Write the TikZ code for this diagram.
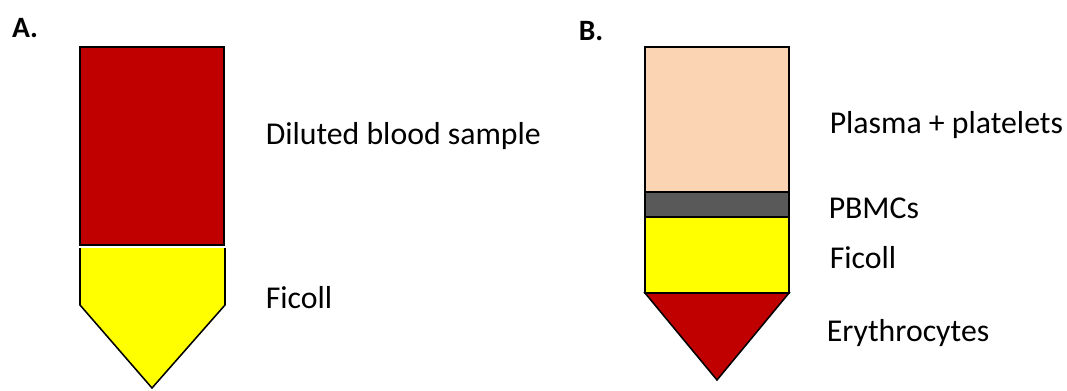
\documentclass[tikz,border=0pt]{standalone}
\usepackage{fontspec}
\setmainfont{Carlito}
\usepackage{tikz}

\definecolor{blood}{HTML}{C00000}
\definecolor{ficoll}{HTML}{FFFF00}
\definecolor{plasma}{HTML}{FBD4B4}
\definecolor{pbmc}{HTML}{595959}

\begin{document}
\begin{tikzpicture}[x=0.025cm, y=-0.025cm, line width=1.1pt,
	every node/.style={font=\fontsize{22.6}{27}\selectfont, inner sep=0pt},
	label/.style={anchor=west}]
	\useasboundingbox (0,0) rectangle (1067,390);
	% tube A
	\filldraw[fill=blood] (80,47) rectangle (224,245);
	\fill[ficoll] (80,248) -- (225,248) -- (225,305) -- (152,388) -- (80,305) -- cycle;
	\draw (80,248) -- (80,305) -- (152,388) -- (225,305) -- (225,248);
	\node[font=\fontsize{21}{25}\selectfont\bfseries] (lblA) at (25,28) {A.};
	\node[label] (blood) at (265,136) {Diluted blood sample};
	\node[label] (ficollA) at (265,298) {Ficoll};
	% tube B
	\filldraw[fill=plasma] (645,47) rectangle (789,192);
	\filldraw[fill=pbmc] (645,192) rectangle (789,217);
	\filldraw[fill=ficoll] (645,217) rectangle (789,293);
	\filldraw[fill=blood] (645,293) -- (789,293) -- (717,380) -- cycle;
	\node[font=\fontsize{21}{25}\selectfont\bfseries] (lblB) at (591,31) {B.};
	\node[label] (plasma) at (829,125) {Plasma + platelets};
	\node[label] (pbmcs) at (828,208) {PBMCs};
	\node[label] (ficollB) at (829,258) {Ficoll};
	\node[label] (ery) at (826,333) {Erythrocytes};
\end{tikzpicture}
\end{document}
